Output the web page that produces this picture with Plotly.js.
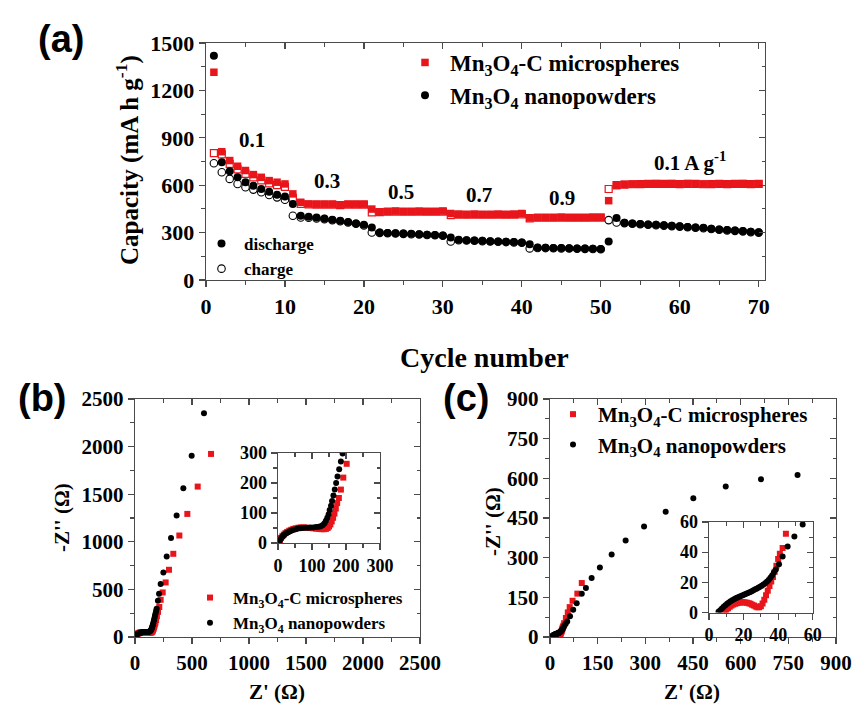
<!DOCTYPE html>
<html><head><meta charset="utf-8">
<script src="https://cdn.plot.ly/plotly-3.0.1.min.js"></script>
<style>
body{margin:0;background:#fff}
.xtick text, .ytick text { font-family: 'Liberation Serif', 'Times New Roman', serif !important; font-weight: bold !important; }
</style>
</head><body><div id="chart" style="width:853px;height:706px"></div>
<script>
// ---------- DATA ----------
const cycles = [1,2,3,4,5,6,7,8,9,10,11,12,13,14,15,16,17,18,19,20,21,22,23,24,25,26,27,28,29,30,31,32,33,34,35,36,37,38,39,40,41,42,43,44,45,46,47,48,49,50,51,52,53,54,55,56,57,58,59,60,61,62,63,64,65,66,67,68,69,70];
const redDischarge = [1315,812,756,720,693,667,650,629,619,608, 545,492,481,480,480,480,476,480,480,480, 449,432,434,436,434,434,435,434,434,436, 421,416,415,416,415,415,416,415,416,421, 394,396,396,396,397,396,396,396,397,397, 502,598,605,607,608,609,610,609,610,608, 610,609,607,608,609,608,609,610,608,609];
const redCharge = [803,795,735,700,672,650,630,612,600,590, 520,482,478,477,477,477,474,477,477,477, 428,430,432,433,432,432,433,432,432,433, 410,414,413,414,413,413,414,413,414,415, 390,394,394,394,395,394,394,394,395,395, 576,600,604,606,607,608,609,608,609,607, 609,608,606,607,608,607,608,609,607,608];
const blackDischarge = [1419,746,688,650,619,597,576,559,540,528, 481,407,400,396,390,381,375,367,358,350, 333,301,298,296,294,292,290,287,285,282, 269,254,252,250,248,246,244,242,240,238, 227,205,204,203,202,201,200,199,198,196, 244,392,362,358,355,352,349,346,343,340, 336,333,330,325,320,316,313,310,305,302];
const blackCharge = [739,682,640,608,587,572,555,538,523,508, 407,396,394,390,385,378,372,364,356,345, 301,298,296,294,292,290,288,285,283,280, 244,252,250,248,246,244,242,240,238,236, 200,203,202,201,200,199,198,197,196,195, 379,364,360,356,353,350,347,344,341,338, 334,331,328,323,318,314,311,308,303,300];
const rateLabels = ["0.1","0.3","0.5","0.7","0.9","0.1 A g<sup>-1</sup>"];

// panel (b): Nyquist, Mn3O4-C (red) and Mn3O4 (black)
const bRedX = [4,6,9,13,17,22,27,33,39,45,52,60,68,76,85,94,103,112,120,128,135,141,146,150,154,158,162,166,170,174,179,185,192,202,213,225,243,269,298,336,389,459,550,667];
const bRedY = [3,10,17,23,28,33,37,41,44,47,49,51,52,52,51,50,49,48,47,46,46,47,50,55,62,72,84,98,115,133,150,178,218,264,315,391,468,573,706,874,1066,1293,1580,1923];
const bBlackX = [3,5,8,12,16,20,25,30,35,40,46,52,58,65,72,80,88,96,104,112,120,126,132,137,141,145,149,152,156,159,163,167,171,175,180,185,190,201,211,225,249,278,316,365,424,497,605];
const bBlackY = [2,8,14,20,25,29,33,36,39,42,44,46,48,49,50,51,51,52,52,53,54,56,60,66,74,84,96,110,124,140,158,178,200,222,246,272,298,380,454,556,678,846,1039,1276,1563,1905,2350];

// panel (c)
const cRedX = [9.2,10,11,12,13,14,15,16,17,18,19,20,21,22,23,24,25,26,27,28,29,30,31,32,33,34,35,36,37,38,39,40,41,42.6,44.5,50,56,62,71,86,100];
const cRedY = [0.3,1.5,2.8,3.8,4.6,5.3,5.8,6.2,6.5,6.7,6.8,6.8,6.7,6.5,6.2,5.8,5.2,4.6,4.0,3.5,3.4,4.2,6.0,8.5,11.5,14.5,17.5,20.5,23.5,27,31,35.5,39,42.7,52.2,72,93,113,137,164,204];
const cBlackX = [5.5,6.5,7.5,8.5,9.5,10.5,11.5,12.5,13.5,14.5,15.5,16.5,17.5,18.5,19.5,20.5,21.5,22.5,23.5,24.5,25.5,26.5,27.5,28.5,29.5,30.5,31.5,32.5,33.5,34.5,35.5,36.5,37.5,38.7,40.5,42.6,45.5,49.4,54.2,63,73,84,100,113,131,157,194,238,296,364,451,553,664,779];
const cBlackY = [0.5,1.5,2.7,3.8,4.8,5.8,6.6,7.4,8.1,8.8,9.4,10,10.5,11,11.5,12,12.5,13,13.5,14,14.6,15.2,15.8,16.4,17,17.7,18.5,19.4,20.4,21.6,23,24.6,26.5,28.5,32,37.1,43.8,50.4,58.4,78,103,128,164,185,223,263,312,365,418,474,525,569,597,613];

const nameC = "Mn<sub>3</sub>O<sub>4</sub>-C microspheres";
const nameN = "Mn<sub>3</sub>O<sub>4</sub> nanopowders";

// ---------- STYLE / LAYOUT ----------
const W = 853, H = 706;
const px = v => v / W, py = v => 1 - v / H;
const RED = '#e8151b', BLK = '#000000', AX = '#4a4a4a';
const SERIF = 'Liberation Serif';
const SANS = 'Liberation Sans';

const layout = {
  width: W, height: H, margin: {l:0, r:0, t:0, b:0},
  paper_bgcolor: '#fff', plot_bgcolor: 'rgba(0,0,0,0)',
  font: {family: SERIF},
  showlegend: true, annotations: []
};

function frame(n, m, xd, yd, xr, yr, dx, mx, dy, my, fs) {
  const base = {showgrid:false, zeroline:false, fixedrange:true};
  const xk = n === 1 ? 'xaxis' : 'xaxis' + n, yk = n === 1 ? 'yaxis' : 'yaxis' + n;
  const xid = n === 1 ? 'x' : 'x' + n, yid = n === 1 ? 'y' : 'y' + n;
  layout[xk] = Object.assign({}, base, {domain: xd, range: xr, anchor: yid, showline:true, linecolor: AX, linewidth: 1.3, mirror: true,
    ticks:'outside', ticklen: 6, tickwidth: 1.2, tickcolor: AX, tick0: 0, dtick: dx,
    tickfont: {family: SERIF, size: fs, color: '#000', weight: 'bold'},
    minor: {dtick: mx, tick0: 0, ticks:'outside', ticklen: 3.5, tickwidth: 1.1, tickcolor: AX}});
  layout[yk] = Object.assign({}, base, {domain: yd, range: yr, anchor: xid, showline:true, linecolor: AX, linewidth: 1.3, mirror: true,
    ticks:'outside', ticklen: 6, tickwidth: 1.2, tickcolor: AX, tick0: 0, dtick: dy,
    tickfont: {family: SERIF, size: fs, color: '#000', weight: 'bold'},
    minor: {dtick: my, tick0: 0, ticks:'outside', ticklen: 3.5, tickwidth: 1.1, tickcolor: AX}});
  layout['xaxis' + m] = Object.assign({}, base, {overlaying: xid, side:'top', anchor: 'y' + m, range: xr, showline:false,
    ticks:'inside', ticklen: 6, tickwidth: 1.2, tickcolor: AX, tick0: 0, dtick: dx, showticklabels:false,
    minor: {dtick: mx, tick0: 0, ticks:'inside', ticklen: 3.5, tickwidth: 1.1, tickcolor: AX}});
  layout['yaxis' + m] = Object.assign({}, base, {overlaying: yid, side:'right', anchor: 'x' + m, range: yr, showline:false,
    ticks:'inside', ticklen: 6, tickwidth: 1.2, tickcolor: AX, tick0: 0, dtick: dy, showticklabels:false,
    minor: {dtick: my, tick0: 0, ticks:'inside', ticklen: 3.5, tickwidth: 1.1, tickcolor: AX}});
}
frame(1, 6, [px(206), px(765)], [py(280), py(43)], [0, 70.8], [0, 1500], 10, 5, 300, 150, 22);
frame(2, 7, [px(135), px(420)], [py(637), py(399)], [0, 2500], [0, 2500], 500, 250, 500, 250, 21);
frame(3, 8, [px(278), px(380)], [py(543), py(453)], [0, 300], [0, 300], 100, 50, 100, 50, 18);
frame(4, 9, [px(550), px(836)], [py(637), py(399)], [0, 900], [0, 900], 150, 75, 150, 75, 21);
frame(5, 10, [px(709), px(812.7)], [py(612.5), py(522)], [0, 60], [0, 60], 20, 10, 20, 10, 18);

const lgBase = {bgcolor:'rgba(0,0,0,0)', borderwidth:0, xanchor:'left', yanchor:'top', itemclick:false, itemdoubleclick:false, traceorder:'normal'};
layout.legend  = Object.assign({}, lgBase, {x: px(400), y: py(41), itemwidth: 40, font:{family:SERIF, size:23, color:'#000', weight:'bold'}});
layout.legend2 = Object.assign({}, lgBase, {x: px(199), y: py(226), itemwidth: 35, font:{family:SERIF, size:17, color:'#000', weight:'bold'}});
layout.legend3 = Object.assign({}, lgBase, {x: px(187), y: py(580), itemwidth: 36, font:{family:SERIF, size:17, color:'#000', weight:'bold'}});
layout.legend4 = Object.assign({}, lgBase, {x: px(548), y: py(394), itemwidth: 40, font:{family:SERIF, size:21, color:'#000', weight:'bold'}});

function ann(text, x, y, size, opts) {
  layout.annotations.push(Object.assign({text, x: px(x), y: py(y), xref:'paper', yref:'paper', showarrow:false,
    xanchor:'center', yanchor:'middle', font:{family: SERIF, size, color:'#000', weight:'bold'}}, opts || {}));
}
ann('(a)', 61, 39, 38, {font:{family:SANS, size:38, color:'#000', weight:'bold'}});
ann('(b)', 42, 398, 38, {font:{family:SANS, size:38, color:'#000', weight:'bold'}});
ann('(c)', 466, 398, 38, {font:{family:SANS, size:38, color:'#000', weight:'bold'}});
ann('Capacity (mA h g<sup>-1</sup>)', 127, 160, 25, {textangle:-90});
ann('Cycle number', 485, 357, 28);
ann("-Z'' (Ω)", 62, 518, 21, {textangle:-90});
ann("Z' (Ω)", 277, 692, 21);
ann("-Z'' (Ω)", 493, 522, 21, {textangle:-90});
ann("Z' (Ω)", 692, 692, 21);
const ratePos = [[252,140],[327,181],[401,192],[479,195],[562,198],[690,162]];
rateLabels.forEach((t, i) => ann(t, ratePos[i][0], ratePos[i][1], 21));

// ---------- TRACES ----------
const traces = [];
const mk = (sym, color, size, lw) => ({symbol: sym, color: color, size, line:{color, width: lw || 0}});
// panel a
traces.push({x: cycles, y: redCharge, mode:'markers', marker: mk('square-open', RED, 7, 1.2), showlegend:false, xaxis:'x', yaxis:'y'});
traces.push({x: cycles, y: blackCharge, mode:'markers', marker: mk('circle-open', BLK, 7.5, 1.1), showlegend:false, xaxis:'x', yaxis:'y'});
traces.push({x: cycles, y: redDischarge, mode:'markers', marker: mk('square', RED, 7.5), name: nameC, legend:'legend', xaxis:'x', yaxis:'y'});
traces.push({x: cycles, y: blackDischarge, mode:'markers', marker: mk('circle', BLK, 8), name: nameN, legend:'legend', xaxis:'x', yaxis:'y'});
traces.push({x: [null], y: [null], mode:'markers', marker: mk('circle', BLK, 8), name: 'discharge', legend:'legend2', xaxis:'x', yaxis:'y'});
traces.push({x: [null], y: [null], mode:'markers', marker: mk('circle-open', BLK, 7.5, 1.1), name: 'charge', legend:'legend2', xaxis:'x', yaxis:'y'});
// panel b main + inset
traces.push({x: bRedX, y: bRedY, mode:'markers', marker: mk('square', RED, 6), name: nameC, legend:'legend3', xaxis:'x2', yaxis:'y2'});
traces.push({x: bBlackX, y: bBlackY, mode:'markers', marker: mk('circle', BLK, 6), name: nameN, legend:'legend3', xaxis:'x2', yaxis:'y2'});
traces.push({x: bRedX, y: bRedY, mode:'markers', marker: mk('square', RED, 6), showlegend:false, xaxis:'x3', yaxis:'y3'});
traces.push({x: bBlackX, y: bBlackY, mode:'markers', marker: mk('circle', BLK, 6), showlegend:false, xaxis:'x3', yaxis:'y3'});
// panel c main + inset
traces.push({x: cRedX, y: cRedY, mode:'markers', marker: mk('square', RED, 6), name: nameC, legend:'legend4', xaxis:'x4', yaxis:'y4'});
traces.push({x: cBlackX, y: cBlackY, mode:'markers', marker: mk('circle', BLK, 6), name: nameN, legend:'legend4', xaxis:'x4', yaxis:'y4'});
traces.push({x: cRedX, y: cRedY, mode:'markers', marker: mk('square', RED, 6), showlegend:false, xaxis:'x5', yaxis:'y5'});
traces.push({x: cBlackX, y: cBlackY, mode:'markers', marker: mk('circle', BLK, 6), showlegend:false, xaxis:'x5', yaxis:'y5'});
[6,7,8,9,10].forEach(m => traces.push({x: [], y: [], mode:'markers', showlegend:false, hoverinfo:'skip', xaxis:'x'+m, yaxis:'y'+m}));

Plotly.newPlot('chart', traces, layout, {staticPlot:true, displayModeBar:false});
</script>
</body></html>
